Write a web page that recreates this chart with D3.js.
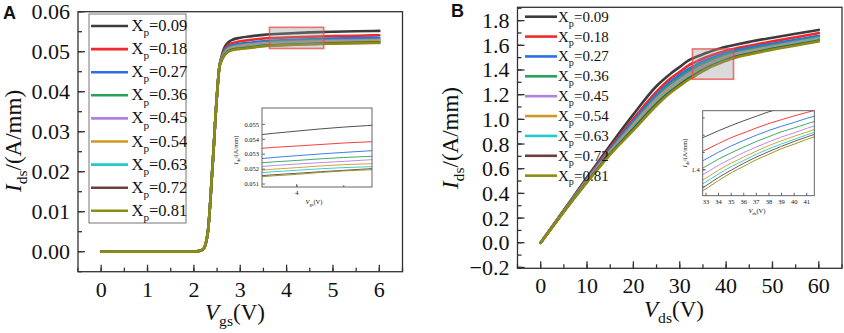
<!DOCTYPE html>
<html><head><meta charset="utf-8">
<script src="https://cdn.jsdelivr.net/npm/d3@7"></script>
<style>
body{margin:0;background:#fff}
svg{display:block}
svg text{font-family:"Liberation Serif","DejaVu Serif","Times New Roman",serif;fill:#111}
</style>
</head><body>
<svg id="chart" width="844" height="333" font-family="'Liberation Serif','DejaVu Serif',serif"></svg>
<script>
// ---------- data ----------
const xpLabels = ["0.09","0.18","0.27","0.36","0.45","0.54","0.63","0.72","0.81"];
const colors = ["#3c3c3c","#f42828","#2a6ee8","#27a35a","#b27ee8","#cc9a1c","#22caca","#6e3e3e","#8c8c14"];

// Panel A: Ids vs Vgs
const vgs = [0,0.5,1,1.5,2,2.1,2.2,2.3,2.4,2.5,2.55,2.6,2.65,2.7,2.8,3,3.25,3.5,4,4.5,5,5.5,6];
const idsA_009 = [0,0,0,0,0,0.0002,0.0006,0.0048,0.021,0.0395,0.0462,0.0490,0.0508,0.0518,0.0528,0.0535,0.0539,0.0542,0.05455,0.05482,0.0550,0.0551,0.0552];
const idsA_018 = [0,0,0,0,0,0.0002,0.0006,0.0048,0.021,0.0395,0.0462,0.0486,0.0502,0.0511,0.0520,0.0526,0.0530,0.0533,0.05355,0.05375,0.0539,0.0540,0.0541];
const idsA_027 = [0,0,0,0,0,0.0002,0.0006,0.0048,0.021,0.0395,0.0462,0.0484,0.0499,0.0507,0.0515,0.0520,0.0523,0.0526,0.0529,0.05312,0.0533,0.0534,0.0535];
const idsA_036 = [0,0,0,0,0,0.0002,0.0006,0.0048,0.021,0.0395,0.0462,0.0483,0.0497,0.0505,0.0512,0.0517,0.0520,0.05232,0.05258,0.05278,0.0529,0.0530,0.0531];
const idsA_045 = [0,0,0,0,0,0.0002,0.0006,0.0048,0.021,0.0395,0.0462,0.0482,0.0495,0.0503,0.0510,0.0515,0.0518,0.05208,0.05234,0.05252,0.0527,0.0528,0.0529];
const idsA_054 = [0,0,0,0,0,0.0002,0.0006,0.0048,0.021,0.0395,0.0462,0.0481,0.0493,0.0501,0.0508,0.0512,0.0515,0.05182,0.0521,0.0523,0.0524,0.0525,0.0526];
const idsA_063 = [0,0,0,0,0,0.0002,0.0006,0.0048,0.021,0.0395,0.0462,0.0480,0.0492,0.0499,0.0506,0.0510,0.0513,0.05165,0.05192,0.0521,0.0522,0.0523,0.0524];
const idsA_072 = [0,0,0,0,0,0.0002,0.0006,0.0048,0.021,0.0395,0.0462,0.0479,0.0490,0.0497,0.0504,0.0508,0.0511,0.05145,0.05172,0.05192,0.0521,0.0522,0.0523];
const idsA_081 = [0,0,0,0,0,0.0002,0.0006,0.0048,0.021,0.0395,0.0462,0.0478,0.0489,0.0496,0.0503,0.0507,0.0510,0.05138,0.05165,0.05188,0.0520,0.0521,0.0522];

// Panel B: Ids vs Vds
const vds = [0,5,10,15,20,25,28,30,32,33,34,35,36,37,38,39,40,41,42,45,50,55,60];
const idsB_009 = [0,0.265,0.53,0.79,1.04,1.27,1.37,1.425,1.48,1.497,1.513,1.528,1.542,1.555,1.568,1.578,1.588,1.597,1.605,1.628,1.662,1.694,1.725];
const idsB_018 = [0,0.262,0.52,0.77,1.005,1.225,1.33,1.385,1.44,1.458,1.476,1.493,1.507,1.521,1.534,1.545,1.556,1.566,1.575,1.597,1.632,1.666,1.699];
const idsB_027 = [0,0.260,0.513,0.757,0.985,1.20,1.305,1.36,1.412,1.431,1.451,1.469,1.485,1.500,1.514,1.526,1.537,1.549,1.559,1.580,1.613,1.645,1.677];
const idsB_036 = [0,0.258,0.508,0.748,0.97,1.182,1.284,1.338,1.39,1.410,1.431,1.449,1.466,1.482,1.496,1.510,1.521,1.533,1.544,1.566,1.600,1.633,1.665];
const idsB_045 = [0,0.256,0.504,0.740,0.958,1.166,1.267,1.32,1.371,1.391,1.413,1.432,1.450,1.466,1.481,1.495,1.507,1.520,1.531,1.554,1.590,1.624,1.657];
const idsB_054 = [0,0.255,0.500,0.733,0.946,1.150,1.251,1.304,1.356,1.376,1.399,1.419,1.437,1.454,1.470,1.484,1.497,1.509,1.521,1.545,1.582,1.617,1.650];
const idsB_063 = [0,0.254,0.497,0.727,0.935,1.138,1.238,1.292,1.344,1.365,1.388,1.409,1.427,1.445,1.461,1.475,1.488,1.501,1.513,1.538,1.577,1.612,1.645];
const idsB_072 = [0,0.252,0.493,0.720,0.922,1.124,1.225,1.28,1.333,1.354,1.378,1.399,1.419,1.437,1.453,1.468,1.482,1.495,1.507,1.532,1.571,1.605,1.638];
const idsB_081 = [0,0.250,0.490,0.715,0.910,1.112,1.215,1.27,1.323,1.345,1.369,1.391,1.410,1.429,1.445,1.461,1.474,1.488,1.500,1.526,1.565,1.599,1.632];

// tick values
const ticksAx = [0,1,2,3,4,5,6];
const ticksAy = [0,0.01,0.02,0.03,0.04,0.05,0.06];
const ticksBx = [0,10,20,30,40,50,60];
const ticksBy = [-0.2,0,0.2,0.4,0.6,0.8,1.0,1.2,1.4,1.6,1.8];
const insetAyTicks = [0.051,0.052,0.053,0.054,0.055];
const insetAxTicks = [4];
const insetByTicks = [1.4];
const insetBxTicks = [33,34,35,36,37,38,39,40,41];
// zoom windows (data space)
const zoomA_x = [3.63, 4.8], zoomA_y = [0.0508, 0.0561];
const zoomB_x = [32.74, 41.6], zoomB_y = [1.325, 1.571];

const seriesA = [idsA_009,idsA_018,idsA_027,idsA_036,idsA_045,idsA_054,idsA_063,idsA_072,idsA_081];
const seriesB = [idsB_009,idsB_018,idsB_027,idsB_036,idsB_045,idsB_054,idsB_063,idsB_072,idsB_081];

// ---------- drawing ----------
const SERIF = "'Liberation Serif','DejaVu Serif',serif";
const svg = d3.select("#chart");
const defs = svg.append("defs");

function rich(g, x, y, parts, fs, opts = {}) {
  const t = g.append("text").attr("x", x).attr("y", y).attr("font-size", fs)
    .style("font-family", SERIF);
  if (opts.anchor) t.attr("text-anchor", opts.anchor);
  if (opts.rotate) t.attr("transform", `rotate(-90,${x},${y})`);
  const subShift = opts.subShift != null ? opts.subShift : 0.32;
  let shift = 0;
  parts.forEach(p => {
    const ts = t.append("tspan").text(p.t);
    const target = p.sub ? fs * subShift : 0;
    if (target - shift !== 0) ts.attr("dy", target - shift);
    shift = target;
    if (p.sub) ts.attr("font-size", fs * 0.68);
    if (p.it) ts.attr("font-style", "italic");
  });
  return t;
}

function ticksBetween(lo, hi, step) {
  const out = [];
  const n0 = Math.ceil(lo / step - 1e-9), n1 = Math.floor(hi / step + 1e-9);
  for (let i = n0; i <= n1; i++) out.push(+(i * step).toFixed(6));
  return out;
}

function plot(cfg) {
  const g = svg.append("g");
  const x = d3.scaleLinear().domain(cfg.xd).range(cfg.xr);
  const y = d3.scaleLinear().domain(cfg.yd).range(cfg.yr);
  const id = "clip" + cfg.id;
  defs.append("clipPath").attr("id", id).append("rect")
    .attr("x", cfg.xr[0]).attr("y", cfg.yr[1])
    .attr("width", cfg.xr[1] - cfg.xr[0]).attr("height", cfg.yr[0] - cfg.yr[1]);
  if (cfg.bg) g.append("rect").attr("x", cfg.xr[0]).attr("y", cfg.yr[1])
    .attr("width", cfg.xr[1] - cfg.xr[0]).attr("height", cfg.yr[0] - cfg.yr[1]).attr("fill", "#fff");
  const line = d3.line().x((d, i) => x(cfg.xs[i])).y(d => y(d)).curve(d3.curveMonotoneX);
  const lg = g.append("g").attr("clip-path", `url(#${id})`);
  cfg.series.forEach((s, i) => {
    lg.append("path").attr("d", line(s)).attr("fill", "none")
      .attr("stroke", colors[i]).attr("stroke-width", cfg.lw)
      .attr("stroke-linejoin", "round").attr("stroke-linecap", "round");
  });
  g.append("rect").attr("x", cfg.xr[0]).attr("y", cfg.yr[1])
    .attr("width", cfg.xr[1] - cfg.xr[0]).attr("height", cfg.yr[0] - cfg.yr[1])
    .attr("fill", "none").attr("stroke", cfg.frameColor).attr("stroke-width", cfg.frameW);
  const bottom = cfg.yr[0], left = cfg.xr[0];
  const xMinor = cfg.xMinorStep ? ticksBetween(cfg.xd[0], cfg.xd[1], cfg.xMinorStep) : [];
  xMinor.forEach(v => g.append("line").attr("x1", x(v)).attr("x2", x(v))
    .attr("y1", bottom).attr("y2", bottom - cfg.tMinor).attr("stroke", cfg.frameColor).attr("stroke-width", cfg.frameW));
  cfg.xTicks.forEach(v => {
    g.append("line").attr("x1", x(v)).attr("x2", x(v))
      .attr("y1", bottom).attr("y2", bottom - cfg.tMajor).attr("stroke", cfg.frameColor).attr("stroke-width", cfg.frameW);
    g.append("text").attr("x", x(v)).attr("y", bottom + cfg.xLabOff).attr("text-anchor", "middle")
      .attr("font-size", cfg.fs).style("font-family", SERIF).text(cfg.xFmt(v));
  });
  const yMinor = cfg.yMinorStep ? ticksBetween(cfg.yd[0], cfg.yd[1], cfg.yMinorStep) : [];
  yMinor.forEach(v => g.append("line").attr("x1", left).attr("x2", left + cfg.tMinor)
    .attr("y1", y(v)).attr("y2", y(v)).attr("stroke", cfg.frameColor).attr("stroke-width", cfg.frameW));
  cfg.yTicks.forEach(v => {
    g.append("line").attr("x1", left).attr("x2", left + cfg.tMajor)
      .attr("y1", y(v)).attr("y2", y(v)).attr("stroke", cfg.frameColor).attr("stroke-width", cfg.frameW);
    g.append("text").attr("x", left - cfg.yLabOff).attr("y", y(v)).attr("dy", "0.34em")
      .attr("text-anchor", "end").attr("font-size", cfg.fs).style("font-family", SERIF).text(cfg.yFmt(v));
  });
  return {g, x, y};
}

// ===== Panel A =====
const A = plot({
  id: "A", xd: [-0.5, 6.5], xr: [78, 402.5], yd: [-0.005, 0.06], yr: [271.7, 11.7],
  xs: vgs, series: seriesA, lw: 2.6, frameColor: "#333", frameW: 1.3,
  xTicks: ticksAx, yTicks: ticksAy, xMinorStep: 0.5, yMinorStep: 0.005,
  tMajor: 7, tMinor: 4, fs: 22, xLabOff: 25, yLabOff: 8,
  xFmt: d3.format("d"), yFmt: d3.format(".2f")
});
A.g.append("rect").attr("x", A.x(zoomA_x[0])).attr("y", A.y(zoomA_y[1]))
  .attr("width", A.x(zoomA_x[1]) - A.x(zoomA_x[0])).attr("height", A.y(zoomA_y[0]) - A.y(zoomA_y[1]))
  .attr("fill", "rgba(150,150,150,0.35)").attr("stroke", "rgba(240,70,70,0.75)").attr("stroke-width", 1.6);
const legA = svg.append("g");
legA.append("rect").attr("x", 89).attr("y", 14).attr("width", 97).attr("height", 209)
  .attr("fill", "#fff").attr("stroke", "#777").attr("stroke-width", 1);
xpLabels.forEach((l, i) => {
  const yy = 26 + i * 23.1;
  legA.append("line").attr("x1", 91).attr("x2", 128).attr("y1", yy).attr("y2", yy)
    .attr("stroke", colors[i]).attr("stroke-width", 2.6);
  rich(legA, 131.5, yy + 5, [{t: "X"}, {t: "p", sub: true}, {t: "=" + l}], 16.5);
});
rich(svg, 21, 141, [{t: "I", it: true}, {t: "ds", sub: true}, {t: "/(A/mm)"}], 23, {anchor: "middle", rotate: true, subShift: 0.26});
rich(svg, 235, 320, [{t: "V", it: true}, {t: "gs", sub: true}, {t: "(V)"}], 23, {anchor: "middle", subShift: 0.26});
svg.append("text").attr("x", 3).attr("y", 18.5).attr("font-size", 18).attr("font-weight", "bold")
  .style("font-family", "'Liberation Sans', Arial, sans-serif").text("A");

const iA = plot({
  id: "iA", xd: zoomA_x, xr: [262, 372], yd: zoomA_y, yr: [187, 108], bg: true,
  xs: vgs, series: seriesA, lw: 0.9, frameColor: "#555", frameW: 0.9,
  xTicks: insetAxTicks, yTicks: insetAyTicks, xMinorStep: 0.5, yMinorStep: 0,
  tMajor: 3, tMinor: 2, fs: 6.5, xLabOff: 7.5, yLabOff: 3,
  xFmt: d3.format("d"), yFmt: d3.format(".3f")
});
rich(svg, 237.5, 150, [{t: "I", it: true}, {t: "ds", sub: true}, {t: "/(A/mm)"}], 6.5, {anchor: "middle", rotate: true});
rich(svg, 314, 204, [{t: "V", it: true}, {t: "gs", sub: true}, {t: "(V)"}], 6.5, {anchor: "middle"});

// ===== Panel B =====
const B = plot({
  id: "B", xd: [-5, 65], xr: [517.5, 842], yd: [-0.207, 1.908], yr: [268.3, 7.3],
  xs: vds, series: seriesB, lw: 2.6, frameColor: "#333", frameW: 1.3,
  xTicks: ticksBx, yTicks: ticksBy, xMinorStep: 5, yMinorStep: 0.1,
  tMajor: 7, tMinor: 4, fs: 22, xLabOff: 25, yLabOff: 8,
  xFmt: d3.format("d"), yFmt: d3.format(".1f")
});
B.g.append("rect").attr("x", B.x(zoomB_x[0])).attr("y", B.y(zoomB_y[1]))
  .attr("width", B.x(zoomB_x[1]) - B.x(zoomB_x[0])).attr("height", B.y(zoomB_y[0]) - B.y(zoomB_y[1]))
  .attr("fill", "rgba(150,150,150,0.35)").attr("stroke", "rgba(240,70,70,0.75)").attr("stroke-width", 1.6);
const legB = svg.append("g");
xpLabels.forEach((l, i) => {
  const yy = 16.7 + i * 19.87;
  legB.append("line").attr("x1", 525).attr("x2", 557).attr("y1", yy).attr("y2", yy)
    .attr("stroke", colors[i]).attr("stroke-width", 2.6);
  rich(legB, 558, yy + 5, [{t: "X"}, {t: "p", sub: true}, {t: "=" + l}], 15);
});
rich(svg, 458, 138, [{t: "I", it: true}, {t: "ds", sub: true}, {t: "/(A/mm)"}], 23, {anchor: "middle", rotate: true, subShift: 0.26});
rich(svg, 674, 317, [{t: "V", it: true}, {t: "ds", sub: true}, {t: "(V)"}], 23, {anchor: "middle", subShift: 0.26});
svg.append("text").attr("x", 451).attr("y", 17).attr("font-size", 18).attr("font-weight", "bold")
  .style("font-family", "'Liberation Sans', Arial, sans-serif").text("B");

const iB = plot({
  id: "iB", xd: zoomB_x, xr: [702.7, 814.3], yd: zoomB_y, yr: [195.7, 110.7], bg: true,
  xs: vds, series: seriesB, lw: 0.9, frameColor: "#555", frameW: 0.9,
  xTicks: insetBxTicks, yTicks: insetByTicks, xMinorStep: 0, yMinorStep: 0.05,
  tMajor: 3, tMinor: 2, fs: 6.5, xLabOff: 8, yLabOff: 3,
  xFmt: d3.format("d"), yFmt: d3.format(".1f")
});
rich(svg, 687, 153, [{t: "I", it: true}, {t: "ds", sub: true}, {t: "/(A/mm)"}], 6.5, {anchor: "middle", rotate: true});
rich(svg, 757, 212.5, [{t: "V", it: true}, {t: "ds", sub: true}, {t: "(V)"}], 6.5, {anchor: "middle"});
</script>
</body></html>
